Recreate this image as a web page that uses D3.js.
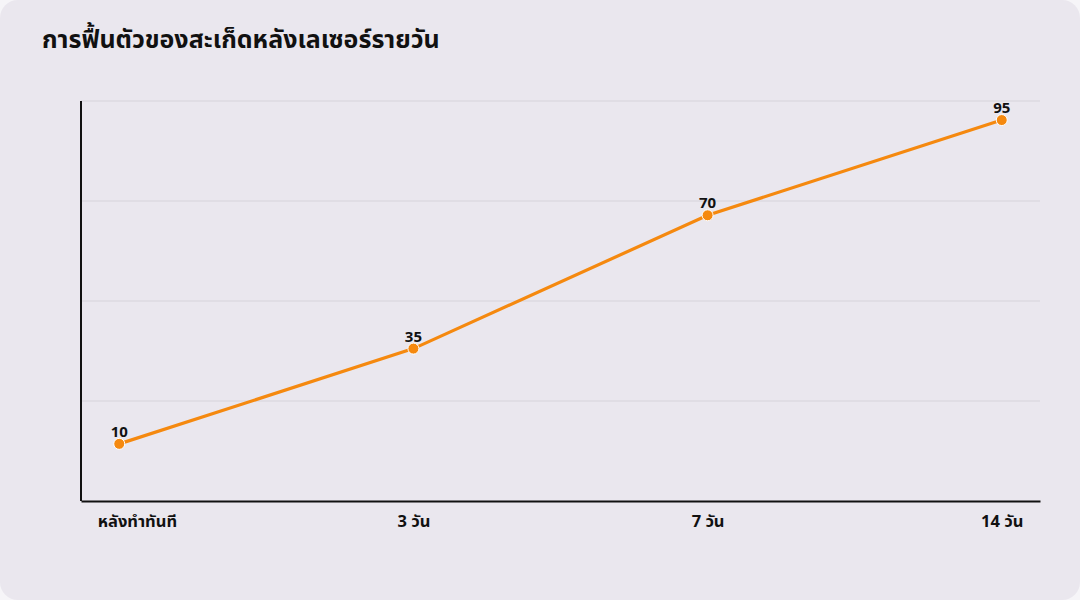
<!DOCTYPE html>
<html>
<head>
<meta charset="utf-8">
<script src="https://cdn.jsdelivr.net/npm/d3@7"></script>
<style>
  html, body { margin: 0; padding: 0; background: #f6f5f8; }
  svg { display: block; font-family: "Noto Sans Thai", "Noto Sans", sans-serif; }
</style>
</head>
<body>
<svg id="chart" width="1080" height="600"></svg>
<script>
const categories = ["หลังทำทันที", "3 วัน", "7 วัน", "14 วัน"];
const values = [10, 35, 70, 95];
const gridValues = [100, 73.75, 47.5, 21.25];

const svg = d3.select("#chart");
const width = 1080;
const height = 600;
const margin = { top: 101, right: 40, bottom: 99, left: 81 };

const chartWidth = width - margin.left - margin.right;
const chartHeight = height - margin.top - margin.bottom;

// card background
svg.append("rect")
    .attr("x", 0)
    .attr("y", 0)
    .attr("width", width)
    .attr("height", height)
    .attr("rx", 18)
    .attr("fill", "#eae7ee");

svg.append("text")
    .attr("x", 42)
    .attr("y", 48)
    .style("font-size", "25px")
    .style("font-weight", "700")
    .attr("fill", "#111")
    .text("การฟื้นตัวของสะเก็ดหลังเลเซอร์รายวัน");

const chart = svg.append("g")
    .attr("transform", `translate(${margin.left}, ${margin.top})`);

const xScale = d3.scalePoint()
    .domain(categories)
    .range([0, chartWidth])
    .padding(0.13);

const yScale = d3.scaleLinear()
    .domain([-5, 100])
    .range([chartHeight, 0]);

// gridlines
chart.append("g")
    .selectAll("line")
    .data(gridValues)
    .enter()
    .append("line")
    .attr("x1", 0)
    .attr("x2", chartWidth)
    .attr("y1", d => yScale(d))
    .attr("y2", d => yScale(d))
    .attr("stroke", "#d6d3da")
    .attr("stroke-width", 1);

// axes
const xAxis = chart.append("g")
    .attr("transform", `translate(0, ${chartHeight})`)
    .call(d3.axisBottom(xScale).tickSize(0).tickPadding(14));
xAxis.select(".domain").attr("stroke", "#111").attr("stroke-width", 2);
xAxis.selectAll("text")
    .style("font-size", "16.5px")
    .style("font-weight", "700")
    .style("font-family", "\"Noto Sans Thai\", \"Noto Sans\", sans-serif")
    .attr("fill", "#111");
xAxis.selectAll(".tick").filter((d, i) => i === 0).select("text")
    .attr("text-anchor", "start")
    .attr("x", -22);

chart.append("line")
    .attr("x1", 0)
    .attr("x2", 0)
    .attr("y1", 0)
    .attr("y2", chartHeight)
    .attr("stroke", "#111")
    .attr("stroke-width", 2);

const line = d3.line()
    .x((d, i) => xScale(categories[i]))
    .y(d => yScale(d));

chart.append("path")
    .datum(values)
    .attr("d", line)
    .attr("fill", "none")
    .attr("stroke", "#f5890f")
    .attr("stroke-width", 3.2);

chart.selectAll("circle")
    .data(values)
    .enter()
    .append("circle")
    .attr("cx", (d, i) => xScale(categories[i]))
    .attr("cy", d => yScale(d))
    .attr("r", 5.5)
    .attr("fill", "#f5890f")
    .attr("stroke", "#ffffff")
    .attr("stroke-width", 1);

chart.selectAll(".value-label")
    .data(values)
    .enter()
    .append("text")
    .attr("class", "value-label")
    .attr("x", (d, i) => xScale(categories[i]))
    .attr("y", d => yScale(d) - 7)
    .attr("text-anchor", "middle")
    .style("font-size", "15px")
    .style("font-weight", "700")
    .attr("fill", "#111")
    .text(d => d);
</script>
</body>
</html>
